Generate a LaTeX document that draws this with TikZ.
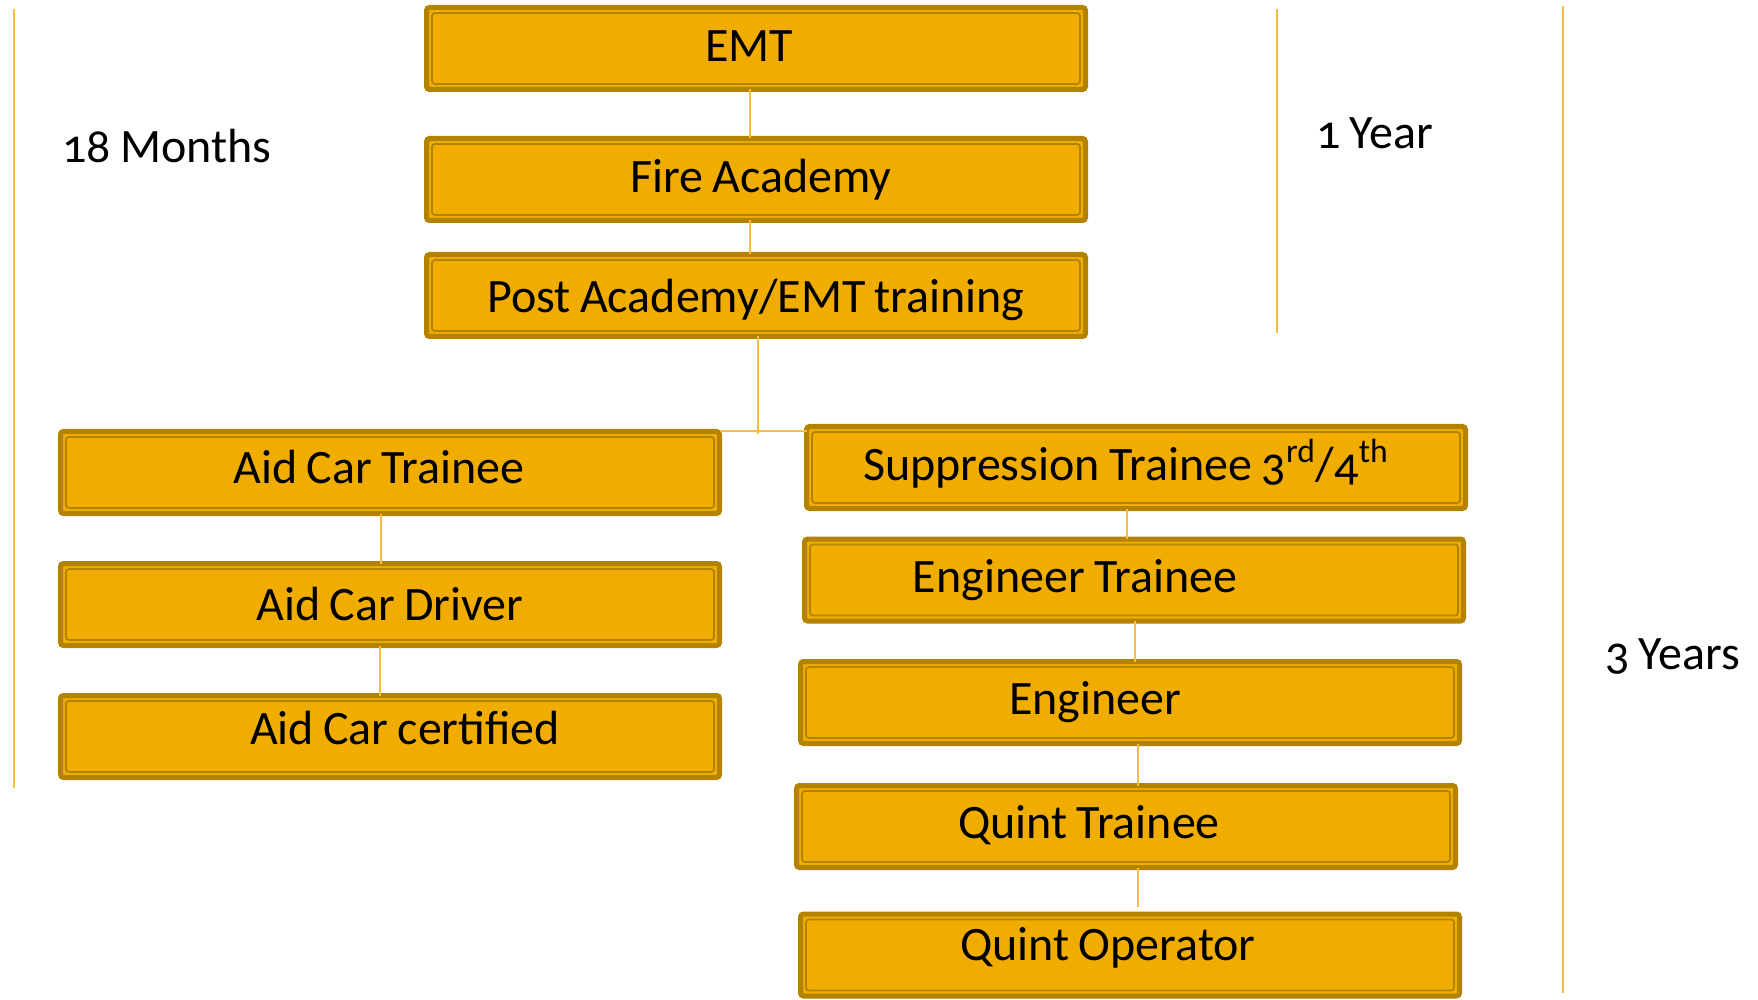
\documentclass[tikz,border=0pt]{standalone}
\usepackage{fontspec}
\setmainfont{Carlito}[Numbers=OldStyle, WordSpace=0.85]
\definecolor{boxfill}{RGB}{240,173,0}
\definecolor{boxdark}{RGB}{179,131,0}
\definecolor{rulegold}{RGB}{244,190,69}
\tikzset{
	stepbox/.style={draw=boxdark, fill=boxfill, line width=2.5pt, rounded corners=1.5pt,
		minimum width=329.5pt, minimum height=41pt, inner sep=0pt, outer sep=0pt,
		path picture={\draw[boxdark, line width=0.9pt]
			([shift={(2.75pt,-2.75pt)}]path picture bounding box.north west) rectangle
			([shift={(-2.75pt,2.75pt)}]path picture bounding box.south east);}},
	txt/.style={anchor=base, inner sep=0pt, font=\fontsize{24pt}{28pt}\selectfont},
	side/.style={txt, anchor=base west},
	link/.style={draw=rulegold, line width=1pt},
	rule/.style={draw=rulegold, line width=1pt}
}
\begin{document}
\begin{tikzpicture}[x=0.5pt, y=-0.5pt]
	\useasboundingbox (0,0) rectangle (1758,1000);
	% time spans
	\draw[rule] (14,9) -- (14,788);
	\draw[rule] (1277,9) -- (1277,333);
	\draw[rule] (1563,6) -- (1563,993);
	\node[side] (months) at (62,163) {18 Months};
	\node[side] (year) at (1316,149) {1 Year};
	\node[side] (years) at (1605,669) {3 Years};
	% common start
	\node[stepbox] (emt) at (756,48.5) {};
	\node[stepbox] (fire) at (756,179.5) {};
	\node[stepbox] (post) at (756,295.5) {};
	\node[txt] at ([xshift=-3.5pt, yshift=-6.75pt]emt.center) {EMT};
	\node[txt] at ([xshift=2.5pt, yshift=-6.75pt]fire.center) {Fire Academy};
	\node[txt] at ([yshift=-8.75pt]post.center) {Post Academy/EMT training};
	% aid car
	\node[stepbox] (act) at (390,472.5) {};
	\node[stepbox] (acd) at (390,604.5) {};
	\node[stepbox] (acc) at (390,736.5) {};
	\node[txt] at ([xshift=-5.5pt, yshift=-5.25pt]act.center) {Aid Car Trainee};
	\node[txt] at ([yshift=-7.75pt]acd.center) {Aid Car Driver};
	\node[txt] at ([xshift=7.5pt, yshift=-3.75pt]acc.center) {Aid Car certified};
	% suppression
	\node[stepbox] (sup) at (1136,467.5) {};
	\node[stepbox] (engt) at (1134,580) {};
	\node[stepbox] (eng) at (1130,702.5) {};
	\node[stepbox] (qt) at (1126,826.5) {};
	\node[stepbox] (qo) at (1130,955) {};
	\node[txt] at ([xshift=-5pt, yshift=-6.5pt]sup.center) {Suppression Trainee 3\textsuperscript{rd}/4\textsuperscript{th}};
	\node[txt] at ([xshift=-29.5pt, yshift=-6pt]engt.center) {Engineer Trainee};
	\node[txt] at ([xshift=-17.5pt, yshift=-5.75pt]eng.center) {Engineer};
	\node[txt] at ([xshift=-18.5pt, yshift=-5.75pt]qt.center) {Quint Trainee};
	\node[txt] at ([xshift=-11pt, yshift=-2.5pt]qo.center) {Quint Operator};
	% connectors
	\coordinate (split) at (758,434);
	\draw[link] ([xshift=-3pt]emt.south) -- ([xshift=-3pt]emt.south |- fire.north);
	\draw[link] ([xshift=-3pt]fire.south) -- ([xshift=-3pt]fire.south |- post.north);
	\draw[link] ([xshift=1pt]post.south) -- (split);
	\draw[link] (act.north east) -- (act.north east -| sup.west);
	\draw[link] ([xshift=-4.5pt]act.south) -- ([xshift=-4.5pt]act.south |- acd.north);
	\draw[link] ([xshift=-5pt]acd.south) -- ([xshift=-5pt]acd.south |- acc.north);
	\draw[link] ([xshift=-4.5pt]sup.south) -- ([xshift=-4.5pt]sup.south |- engt.north);
	\draw[link] ([xshift=0.5pt]engt.south) -- ([xshift=0.5pt]engt.south |- eng.north);
	\draw[link] ([xshift=4pt]eng.south) -- ([xshift=4pt]eng.south |- qt.north);
	\draw[link, shorten >=3.5pt] ([xshift=6pt]qt.south) -- ([xshift=6pt]qt.south |- qo.north);
\end{tikzpicture}
\end{document}
